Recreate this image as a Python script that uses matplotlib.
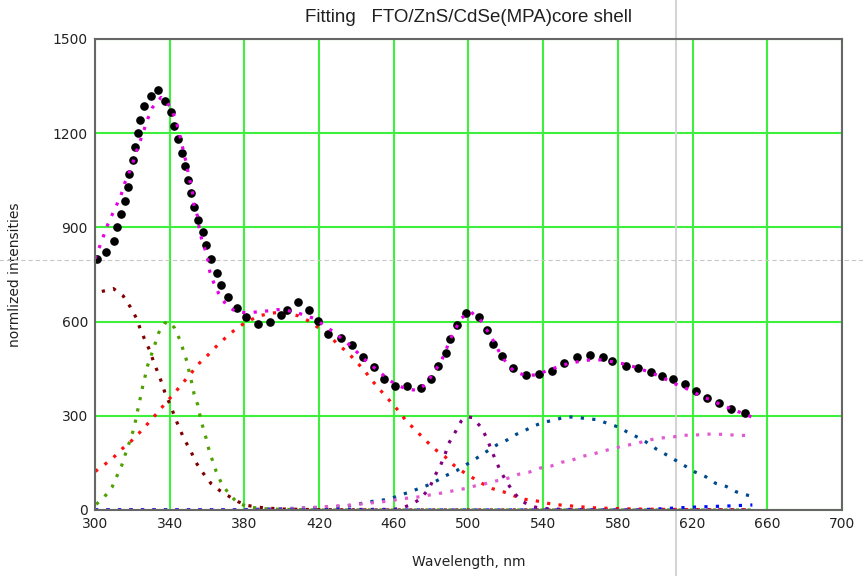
"""Fitting plot: FTO/ZnS/CdSe(MPA) core shell, measured spectrum + Gaussian components."""

import matplotlib
matplotlib.use("Agg")
import matplotlib.pyplot as plt

# measured points (black dots)
exp_x = [301.1, 305.9, 310.0, 311.9, 313.7, 316.3, 317.6, 318.3, 320.3, 321.7, 322.9, 324.3,
         326.3, 330.2, 333.9, 337.3, 340.7, 342.5, 344.4, 346.7, 348.3, 349.9, 351.2, 353.1,
         355.1, 357.6, 359.7, 362.0, 365.6, 367.5, 371.5, 376.1, 381.1, 387.3, 393.7, 399.6,
         403.1, 408.8, 414.8, 419.5, 424.6, 431.9, 437.8, 443.6, 449.5, 454.7, 460.7, 467.3,
         474.4, 479.7, 483.8, 487.7, 490.0, 493.6, 498.6, 505.5, 509.9, 513.1, 517.9, 523.8,
         530.9, 537.7, 544.6, 551.2, 558.0, 565.1, 571.8, 577.1, 584.3, 590.7, 597.9, 603.8,
         609.7, 615.7, 621.6, 627.8, 634.0, 640.8, 647.9]
exp_y = [798, 822, 857, 900, 942, 985, 1029, 1071, 1114, 1156, 1200, 1242,
         1286, 1320, 1336, 1304, 1266, 1223, 1181, 1137, 1095, 1052, 1008, 966,
         923, 884, 843, 798, 756, 716, 677, 642, 614, 592, 599, 622,
         638, 661, 638, 603, 561, 549, 525, 486, 454, 416, 396, 396,
         389, 416, 458, 501, 544, 588, 627, 615, 573, 528, 490, 451,
         431, 432, 444, 467, 486, 494, 486, 474, 458, 451, 440, 428,
         417, 400, 378, 357, 342, 322, 310]

# total fit (magenta)
fit_x = [300, 301.6, 303.9, 305.9, 308.5, 311.2, 313.9, 315.6, 318.1, 320.3, 322.2, 324.3,
         326.3, 328.3, 330.7, 335.4, 340.2, 342.7, 344.6, 346.0, 347.3, 348.7, 349.9, 351.2,
         352.4, 353.1, 355.1, 355.8, 357.1, 359.0, 360.6, 361.5, 363.6, 366.3, 370.2, 375.5,
         381.3, 387.3, 392.4, 397.6, 401.1, 407.0, 411.6, 416.8, 421.9, 427.3, 432.4, 437.8,
         442.6, 447.7, 452.5, 457.0, 461.4, 466.9, 472.6, 477.2, 481.1, 485.1, 487.7, 489.9,
         492.9, 496.1, 501.2, 506.2, 509.9, 513.5, 516.6, 520.4, 524.9, 530.6, 536.6, 541.6,
         547.5, 553.6, 559.5, 565.2, 571.2, 577.1, 582.6, 588.1, 593.0, 598.5, 604.5, 609.2,
         614.4, 619.8, 625.0, 630.1, 635.5, 640.8, 645.8, 651.8]
fit_y = [800, 825, 860, 896, 931, 966, 1001, 1036, 1071, 1106, 1142, 1176,
         1211, 1246, 1281, 1314, 1286, 1251, 1214, 1180, 1145, 1110, 1075, 1040,
         1005, 967, 933, 898, 864, 829, 793, 759, 724, 689, 654, 631,
         628, 631, 634, 638, 638, 630, 622, 611, 592, 569, 545, 518,
         489, 462, 439, 416, 399, 385, 381, 400, 435, 470, 505, 540,
         575, 611, 631, 607, 573, 537, 502, 467, 439, 429, 430, 443,
         455, 467, 473, 478, 478, 472, 466, 457, 447, 436, 420, 405,
         393, 378, 361, 350, 334, 322, 310, 296]

# component peaks
c1_x = [303.7, 309.9, 315.1, 319.0, 322.2, 324.3, 326.8, 329.5, 331.5, 333.9, 336.1, 337.9,
        340.7, 342.7, 345.3, 347.8, 351.2, 353.7, 357.6, 362.2, 366.8, 372.2, 376.8, 381.9,
        390, 400, 420, 450, 652]
c1_y = [696, 705, 682, 646, 611, 576, 541, 506, 470, 435, 400, 365,
        331, 296, 260, 225, 190, 155, 120, 84, 62, 42, 26, 14,
        7, 3, 1, 0, 0]

c2_x = [300.7, 305.1, 309.1, 311.7, 314.4, 316.3, 318.3, 320.3, 321.7, 322.9, 324.2, 325.4,
        326.8, 328.1, 330.2, 332.2, 334.1, 337.3, 340.0, 342.7, 345.3, 347.3, 349.2, 350.5,
        351.9, 353.1, 355.1, 356.3, 357.8, 359.5, 361.0, 362.9, 364.9, 367.5, 371.5, 376.3,
        382, 390, 400, 420, 652]
c2_y = [18, 42, 72, 107, 143, 178, 213, 249, 283, 318, 354, 389,
        424, 458, 494, 529, 564, 595, 600, 579, 544, 509, 474, 439,
        404, 369, 334, 299, 264, 229, 193, 158, 123, 88, 53, 23,
        10, 4, 2, 0, 0]

c3_x = [300.2, 304.6, 309.9, 314.4, 319.0, 323.5, 328.3, 332.9, 337.9, 342.7, 347.1, 351.4,
        355.8, 360.4, 366.3, 371.5, 376.8, 382.8, 388.5, 394.6, 400.3, 403.8, 409.0, 414.1,
        420.0, 425.3, 429.9, 435.3, 439.7, 444.3, 448.4, 452.9, 458.1, 462.8, 466.7, 471.4,
        476.5, 481.9, 487.2, 492.3, 497.0, 502.1, 507.5, 512.8, 518.7, 524.5, 530.2, 535.6,
        541.6, 547.0, 552.9, 558.7, 564.5, 570.4, 590, 620, 652]
c3_y = [123, 142, 167, 194, 217, 244, 275, 306, 341, 373, 405, 435,
        467, 493, 529, 557, 583, 604, 619, 627, 630, 626, 618, 603,
        579, 557, 528, 502, 474, 444, 412, 381, 346, 314, 283, 256,
        225, 194, 171, 142, 122, 103, 84, 68, 58, 45, 34, 30,
        22, 17, 14, 11, 8, 6, 3, 1, 0]

c4_x = [300, 460, 464.4, 469.4, 474.6, 479.2, 481.9, 485.1, 487.5, 489.5, 492.9, 496.1,
        499.0, 502.1, 506.7, 509.9, 512.1, 514.6, 517.2, 520.6, 524.5, 529.1, 534.8, 540,
        550, 570, 652]
c4_y = [0, 2, 7, 17, 37, 71, 108, 143, 178, 213, 248, 283,
        297, 294, 264, 228, 193, 158, 123, 88, 53, 26, 10, 5,
        2, 0, 0]

c5_x = [300, 380, 405.6, 423.4, 434.9, 441.1, 446.7, 452.3, 457.7, 462.8, 467.3, 472.4,
        477.8, 483.3, 487.7, 493.6, 498.7, 504.1, 509.9, 515.1, 520.4, 525.6, 530.2, 535.0,
        540.9, 547.0, 551.5, 557.5, 562.6, 568.5, 574.4, 580.3, 584.8, 590.1, 594.7, 600.6,
        606.5, 611.8, 617.1, 621.6, 627.0, 632.3, 638.0, 643.3, 648.0, 652.5]
c5_y = [0, 1, 5, 9, 12, 19, 26, 30, 35, 46, 55, 66,
        78, 94, 109, 125, 144, 164, 187, 207, 222, 241, 253, 268,
        280, 288, 296, 296, 291, 288, 276, 264, 249, 233, 218, 194,
        174, 155, 136, 120, 106, 85, 75, 58, 49, 43]

c6_x = [300, 390, 405.6, 420, 429, 434.9, 440.8, 447, 452, 458, 463.4, 469.3,
        475.3, 481.1, 487.0, 493.2, 498.9, 504.3, 509.9, 515.8, 521.1, 527.0, 532.3, 538.0,
        544.3, 549.9, 555.5, 561.1, 567.2, 571.8, 577.0, 582.3, 588.2, 593.9, 599.2, 604.5,
        609.9, 615.1, 621.0, 626.3, 632.2, 638.1, 644.0, 650.1]
c6_y = [0, 1, 4, 9, 13, 15, 18, 22, 25, 29, 35, 39,
        43, 50, 55, 63, 69, 78, 85, 94, 101, 114, 120, 133,
        140, 152, 159, 171, 179, 187, 195, 203, 210, 218, 226, 230,
        233, 238, 238, 242, 241, 241, 237, 238]

c7_x = [300, 590, 600, 610, 620, 630, 640, 652]
c7_y = [0, 0, 3, 6, 9, 11, 13, 16]

x_ticks = [300, 340, 380, 420, 460, 500, 540, 580, 620, 660, 700]
y_ticks = [0, 300, 600, 900, 1200, 1500]

cursor_x = 611
cursor_y = 796


def dotted(ax, x, y, color, z):
    ax.plot(x, y, color=color, lw=2.3, linestyle=(0, (1, 2.6)),
            dash_capstyle="butt", zorder=z)


def main() -> None:
    fig = plt.figure(figsize=(8.63, 5.76), dpi=100)
    ax = fig.add_axes([0.110, 0.1146, 0.8657, 0.8177])

    ax.set_xlim(300, 700)
    ax.set_ylim(0, 1500)
    ax.set_xticks(x_ticks)
    ax.set_yticks(y_ticks)
    ax.grid(True, color="#3cf03c", lw=1.5, zorder=1)
    ax.tick_params(length=0, labelsize=10, labelcolor="#222222", pad=5)
    for sp in ax.spines.values():
        sp.set_color("#666666")
        sp.set_linewidth(1.5)
        sp.set_zorder(6)

    comps = [
        (c1_x, c1_y, "#800000"),
        (c2_x, c2_y, "#4fa000"),
        (c3_x, c3_y, "#ff1010"),
        (c4_x, c4_y, "#800080"),
        (c5_x, c5_y, "#004a8c"),
        (c6_x, c6_y, "#e05ad0"),
        (c7_x, c7_y, "#0010ff"),
    ]
    for i, (cx, cy, col) in enumerate(comps):
        dotted(ax, cx, cy, col, 3 + i * 0.01)

    ax.plot(exp_x, exp_y, "o", color="black", ms=5.2, mec="black", zorder=4)
    dotted(ax, fit_x, fit_y, "#e600e6", 5)

    # cursor crosshair (runs over the whole figure)
    ax.axvline(cursor_x, ymin=-0.2, ymax=1.2, color="#d4d4d4", lw=1.5,
               clip_on=False, zorder=2)
    ax.axhline(cursor_y, xmin=-0.2, xmax=1.2, color="#c8c8c8", lw=0.8,
               ls=(0, (4, 2.5)), clip_on=False, zorder=2)

    ax.set_xlabel("Wavelength, nm", fontsize=10, color="#222222", labelpad=17)
    ax.set_ylabel("normlized intensities", fontsize=10, color="#222222", labelpad=22)
    fig.text(0.5425, 0.969, "Fitting   FTO/ZnS/CdSe(MPA)core shell",
             ha="center", va="center", fontsize=13.5, color="#202020",
             family=["Liberation Sans Narrow", "Liberation Sans"])

    fig.savefig("out.png", dpi=100)
    plt.close(fig)


if __name__ == "__main__":
    main()
